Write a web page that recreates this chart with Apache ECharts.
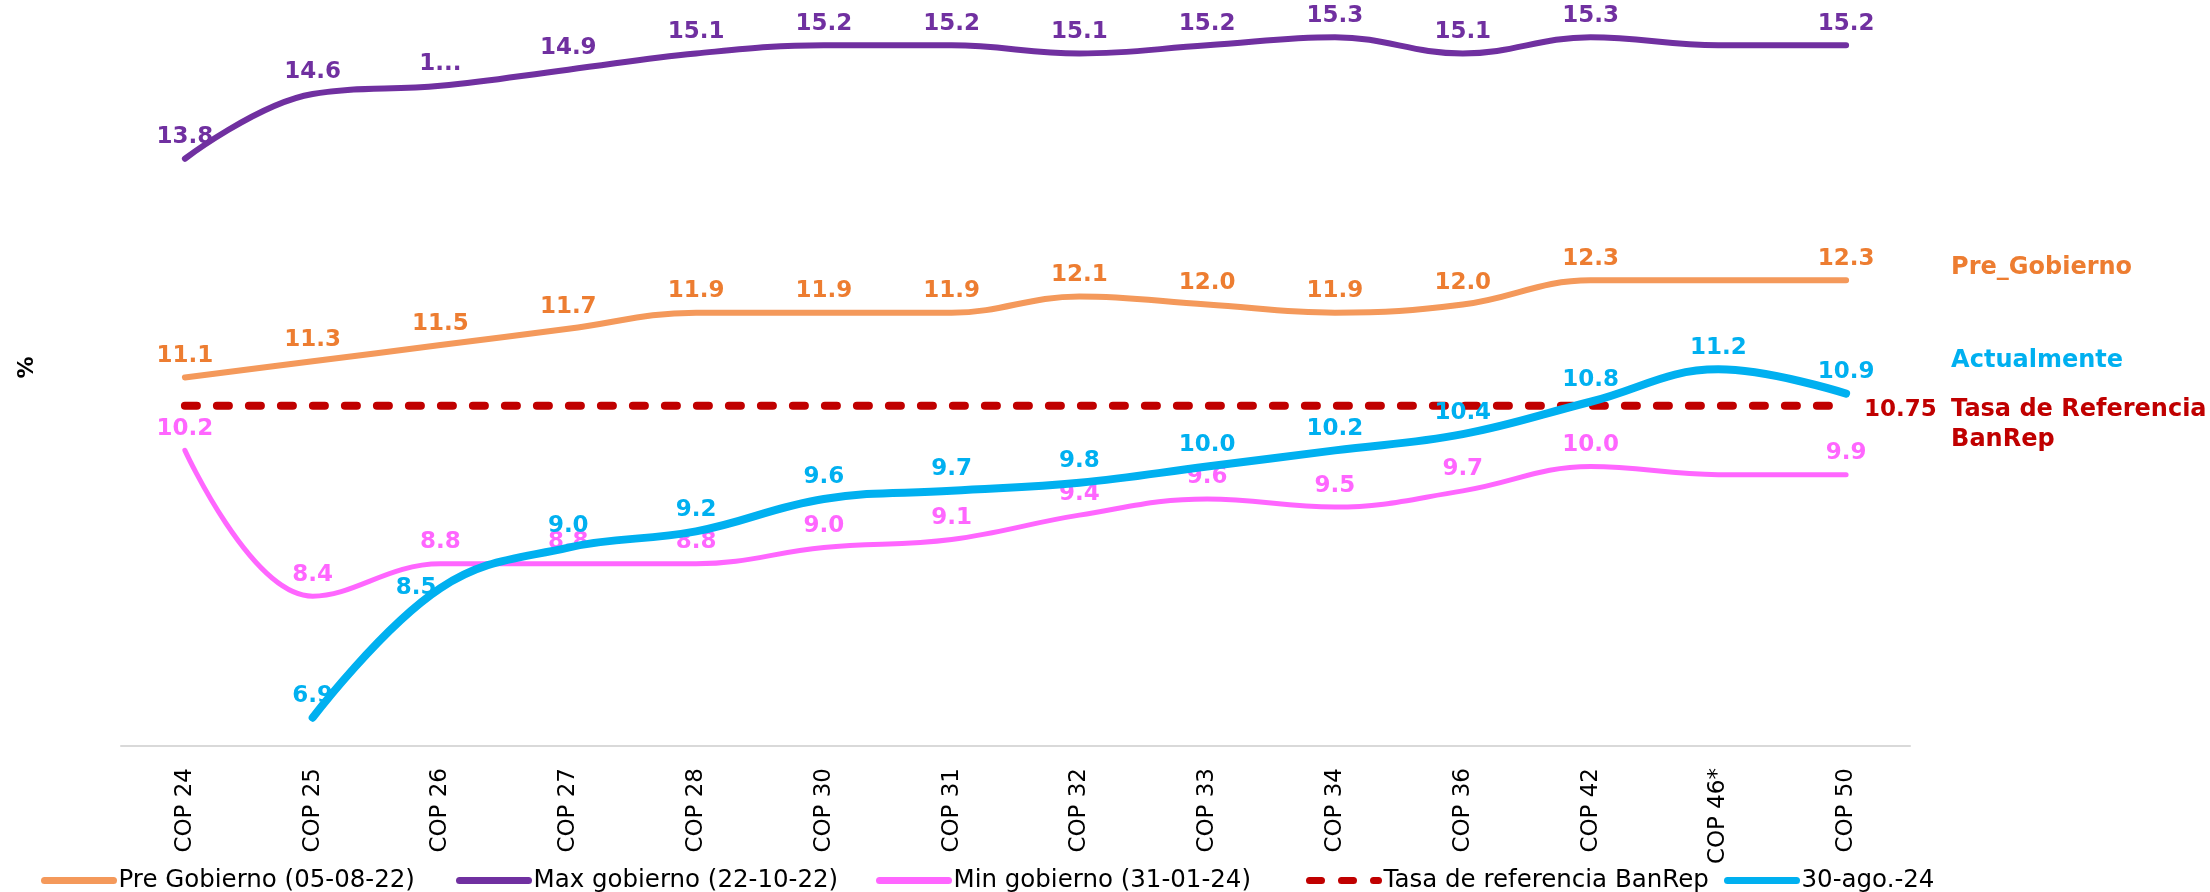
<!DOCTYPE html>
<html>
<head>
<meta charset="utf-8">
<script src="https://cdn.jsdelivr.net/npm/echarts@6/dist/echarts.min.js"></script>
<style>
  html, body { margin: 0; padding: 0; background: #fff; }
  #chart { width: 2210px; height: 892px; }
</style>
</head>
<body>
<div id="chart"></div>
<script>
var categories = ['COP 24', 'COP 25', 'COP 26', 'COP 27', 'COP 28', 'COP 30', 'COP 31',
    'COP 32', 'COP 33', 'COP 34', 'COP 36', 'COP 42', 'COP 46*', 'COP 50'];

var preGobierno = [11.1, 11.3, 11.5, 11.7, 11.9, 11.9, 11.9, 12.1, 12.0, 11.9, 12.0, 12.3, 12.3, 12.3];
var maxGobierno = [13.8, 14.6, 14.7, 14.9, 15.1, 15.2, 15.2, 15.1, 15.2, 15.3, 15.1, 15.3, 15.2, 15.2];
var minGobierno = [10.2, 8.4, 8.8, 8.8, 8.8, 9.0, 9.1, 9.4, 9.6, 9.5, 9.7, 10.0, 9.9, 9.9];
var tasaBanRep = [10.75, 10.75, 10.75, 10.75, 10.75, 10.75, 10.75, 10.75, 10.75, 10.75, 10.75, 10.75, 10.75, 10.75];
var actual = [null, 6.9, 8.5, 9.0, 9.2, 9.6, 9.7, 9.8, 10.0, 10.2, 10.4, 10.8, 11.2, 10.9];

var legendNames = ['Pre Gobierno (05-08-22)', 'Max gobierno (22-10-22)', 'Min gobierno (31-01-24)',
    'Tasa de referencia BanRep', '30-ago.-24'];
var legendLefts = [41, 456, 876, 1306, 1724];

var FONT = 'DejaVu Sans';
var noLabelIdx = 12; // COP 46* sin etiqueta en las series historicas

function points(values, hideIdx, special) {
    return values.map(function(v, i) {
        var item = { value: v };
        if (i === hideIdx) item.label = { show: false };
        if (special && special[i]) item.label = special[i];
        return item;
    });
}

function labelStyle(color) {
    return {
        show: true,
        position: 'top',
        distance: 10,
        color: color,
        fontFamily: FONT,
        fontWeight: 'bold',
        fontSize: 23,
        formatter: function(p) { return p.value == null ? '' : p.value.toFixed(1); }
    };
}

var legends = legendNames.map(function(name, i) {
    return {
        left: legendLefts[i],
        top: 868,
        padding: 0,
        itemWidth: 69,
        itemHeight: 8,
        itemStyle: { opacity: 0 },
        lineStyle: { width: 7, cap: 'round' },
        textStyle: { fontFamily: FONT, fontSize: 24.5, color: '#000' },
        data: [name]
    };
});

var chart = echarts.init(document.getElementById('chart'));

chart.setOption({
    animation: false,
    grid: { left: 121, right: 300, top: 17, bottom: 146 },
    legend: legends,
    xAxis: {
        type: 'category',
        data: categories,
        axisLine: { lineStyle: { color: '#D9D9D9', width: 2 } },
        axisTick: { show: false },
        axisLabel: { rotate: 90, margin: 22, color: '#000', fontFamily: FONT, fontSize: 23 }
    },
    yAxis: {
        type: 'value',
        min: 6.55,
        max: 15.55,
        name: '%',
        nameLocation: 'middle',
        nameRotate: 90,
        nameGap: 83,
        nameTextStyle: { fontFamily: FONT, fontWeight: 'bold', fontSize: 22, color: '#000', padding: [0, 0, 0, 28] },
        axisLine: { show: false },
        axisTick: { show: false },
        axisLabel: { show: false },
        splitLine: { show: false }
    },
    series: [
        {
            name: 'Pre Gobierno (05-08-22)',
            type: 'line',
            smooth: 0.4,
            symbol: 'circle',
            symbolSize: 0,
            z: 3,
            itemStyle: { color: '#F4995B' },
            lineStyle: { color: '#F4995B', width: 6, cap: 'round' },
            label: labelStyle('#ED7D31'),
            endLabel: {
                show: true,
                formatter: 'Pre_Gobierno',
                distance: 105,
                offset: [0, -12],
                color: '#ED7D31',
                fontFamily: FONT,
                fontWeight: 'bold',
                fontSize: 24
            },
            data: points(preGobierno, noLabelIdx)
        },
        {
            name: 'Max gobierno (22-10-22)',
            type: 'line',
            smooth: 0.4,
            symbol: 'circle',
            symbolSize: 0,
            z: 3,
            itemStyle: { color: '#7030A0' },
            lineStyle: { color: '#7030A0', width: 6, cap: 'round' },
            label: labelStyle('#7030A0'),
            data: points(maxGobierno, noLabelIdx, {
                2: { formatter: '1...' }
            })
        },
        {
            name: 'Min gobierno (31-01-24)',
            type: 'line',
            smooth: 0.4,
            symbol: 'circle',
            symbolSize: 0,
            z: 3,
            itemStyle: { color: '#FF66FF' },
            lineStyle: { color: '#FF66FF', width: 5, cap: 'round' },
            label: labelStyle('#FF66FF'),
            data: points(minGobierno, noLabelIdx)
        },
        {
            name: 'Tasa de referencia BanRep',
            type: 'line',
            symbol: 'none',
            z: 2,
            itemStyle: { color: '#C00000' },
            lineStyle: { color: '#C00000', width: 8, type: [12, 20], cap: 'round' },
            endLabel: {
                show: true,
                distance: 18,
                offset: [0, 19],
                formatter: '{v|10.75}{t|Tasa de Referencia}\n{sp|}{t|BanRep}',
                rich: {
                    v: { width: 87, color: '#C00000', fontFamily: FONT, fontWeight: 'bold', fontSize: 23, lineHeight: 30 },
                    sp: { width: 87, lineHeight: 30 },
                    t: { color: '#C00000', fontFamily: FONT, fontWeight: 'bold', fontSize: 24, lineHeight: 30 }
                }
            },
            data: tasaBanRep
        },
        {
            name: '30-ago.-24',
            type: 'line',
            smooth: 0.4,
            symbol: 'circle',
            symbolSize: 0,
            z: 4,
            itemStyle: { color: '#00B0F0' },
            lineStyle: { color: '#00B0F0', width: 8, cap: 'round' },
            label: labelStyle('#00B0F0'),
            endLabel: {
                show: true,
                formatter: 'Actualmente',
                distance: 105,
                offset: [0, -33],
                color: '#00B0F0',
                fontFamily: FONT,
                fontWeight: 'bold',
                fontSize: 24
            },
            data: points(actual, -1, {
                2: { position: 'left', distance: 4 }
            })
        }
    ]
});
</script>
</body>
</html>
